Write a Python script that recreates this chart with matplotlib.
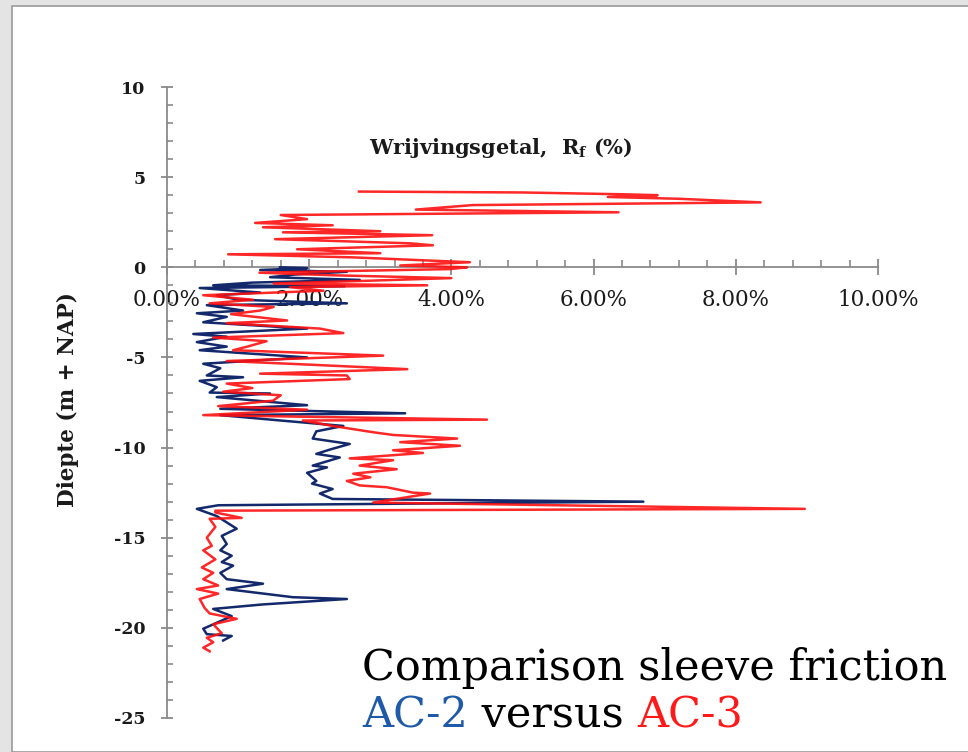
import matplotlib
matplotlib.use("Agg")
import matplotlib.pyplot as plt
from matplotlib.patches import Rectangle
from matplotlib.ticker import MultipleLocator, FuncFormatter

plt.rcParams['axes.unicode_minus'] = False
plt.rcParams['mathtext.fontset'] = 'dejavuserif'

# AC-2 sondering (blue): depth (m + NAP) and friction ratio Rf (%)
ac2_depth = [0.0, -0.05, -0.15, -0.25, -0.4, -0.55, -0.7, -0.85, -1.0, -1.05,
             -1.15, -1.4, -1.55, -1.8, -2.0, -2.1, -2.4, -2.55, -2.75, -3.05,
             -3.4, -3.7, -3.85, -4.15, -4.4, -4.6, -5.0, -5.35, -5.6, -6.0,
             -6.1, -6.3, -6.65, -6.95, -7.0, -7.2, -7.65, -7.85, -8.1, -8.2,
             -8.5, -8.8, -9.1, -9.5, -9.8, -10.1, -10.35, -10.55, -11.0, -11.1,
             -11.4, -11.85, -12.0, -12.3, -12.55, -12.85, -13.0, -13.2, -13.4, -13.8,
             -14.15, -14.5, -14.9, -15.35, -15.7, -16.0, -16.35, -16.55, -16.95, -17.3,
             -17.55, -17.85, -18.3, -18.4, -18.7, -18.95, -19.35, -20.05, -20.35, -20.45,
             -20.7]
ac2_rf = [1.59, 1.97, 1.31, 2.53, 1.8, 1.45, 2.71, 1.2, 0.65, 2.5,
          0.46, 1.31, 0.7, 1.0, 2.53, 0.56, 1.07, 0.42, 0.84, 0.51,
          1.97, 0.37, 0.84, 0.42, 0.84, 0.46, 1.97, 0.51, 0.75, 0.56,
          1.07, 0.46, 0.7, 0.6, 1.45, 0.7, 1.97, 0.75, 3.35, 0.75,
          1.6, 2.48, 2.1, 2.05, 2.57, 2.3, 2.1, 2.43, 2.05, 2.25,
          1.97, 2.1, 2.04, 2.33, 2.15, 2.33, 6.7, 0.72, 0.42, 0.7,
          0.84, 0.98, 0.77, 0.84, 0.75, 0.91, 0.77, 0.93, 0.75, 0.84,
          1.35, 0.84, 1.77, 2.53, 1.35, 0.65, 0.91, 0.51, 0.56, 0.91,
          0.79]

# AC-3 sondering (red)
ac3_depth = [4.2, 4.15, 4.05, 4.0, 3.9, 3.8, 3.6, 3.45, 3.2, 3.05,
             2.9, 2.67, 2.46, 2.33, 2.22, 2.0, 1.94, 1.78, 1.56, 1.33,
             1.22, 1.0, 0.78, 0.72, 0.55, 0.28, 0.1, 0.0, -0.1, -0.3,
             -0.45, -0.6, -0.75, -0.9, -1.0, -1.1, -1.3, -1.55, -1.8, -2.0,
             -2.2, -2.4, -2.6, -2.95, -3.1, -3.4, -3.65, -3.9, -4.1, -4.4,
             -4.6, -4.9, -5.2, -5.4, -5.65, -5.9, -6.0, -6.2, -6.45, -6.7,
             -6.9, -7.1, -7.4, -7.7, -7.9, -8.2, -8.45, -8.5, -8.8, -9.15,
             -9.3, -9.5, -9.7, -9.9, -10.15, -10.3, -10.6, -10.7, -11.0, -11.2,
             -11.45, -11.65, -11.85, -12.1, -12.2, -12.5, -12.55, -12.75, -13.05, -13.4,
             -13.5, -13.6, -13.9, -13.95, -14.4, -15.0, -15.45, -15.7, -16.2, -16.65,
             -16.95, -17.3, -17.65, -17.85, -18.1, -18.4, -18.9, -19.2, -19.5, -19.8,
             -20.3, -20.55, -20.8, -21.1, -21.3]
ac3_rf = [2.7, 5.0, 6.4, 6.9, 6.2, 7.2, 8.35, 4.3, 3.5, 6.35,
          1.6, 1.97, 1.24, 2.33, 1.35, 3.0, 1.63, 3.73, 1.52, 3.42,
          3.74, 1.83, 3.0, 0.86, 2.62, 4.26, 3.28, 4.22, 3.98, 1.3,
          2.4, 4.0, 2.8, 1.5, 3.66, 1.73, 2.2, 0.51, 1.21, 0.6,
          1.5, 1.31, 0.9, 1.69, 0.84, 2.15, 2.48, 0.65, 1.4, 1.13,
          0.93, 3.04, 0.84, 2.0, 3.38, 1.31, 2.53, 2.57, 0.84, 1.2,
          0.79, 1.6, 1.49, 0.72, 1.97, 0.51, 4.5, 1.91, 2.33, 2.9,
          3.18, 4.08, 3.28, 4.12, 3.18, 3.6, 2.57, 3.18, 2.71, 3.23,
          2.62, 2.86, 2.53, 2.71, 3.09, 3.46, 3.7, 3.38, 2.9, 8.97,
          0.68, 0.68, 1.05, 0.6, 0.68, 0.56, 0.63, 0.51, 0.68, 0.49,
          0.65, 0.51, 0.72, 0.42, 0.72, 0.46, 0.53, 0.6, 0.98, 0.65,
          0.77, 0.56, 0.65, 0.51, 0.6]

y_ticks = [-25, -20, -15, -10, -5, 0, 5, 10]
x_ticks = [0, 2, 4, 6, 8, 10]

NAVY = '#13296b'
RED = '#ff1010'
GRAY = '#8a8a8a'
SERIF = 'DejaVu Serif'

fig = plt.figure(figsize=(9.68, 7.52), dpi=100, facecolor='#e4e4e4')
fig.patches.append(Rectangle((12 / 968, 0), 1, (752 - 6) / 752, transform=fig.transFigure,
                             facecolor='white', edgecolor='#9a9a9a', linewidth=1.2, zorder=-5))

ax = fig.add_axes([167 / 968, 34 / 752, 711 / 968, 631 / 752])
ax.patch.set_alpha(0)

ax.plot(ac2_rf, ac2_depth, color=NAVY, lw=1.8, zorder=3)
ax.plot(ac3_rf, ac3_depth, color=RED, lw=1.8, alpha=0.9, zorder=4)

ax.set_xlim(0, 10)
ax.set_ylim(-25, 10)

for s in ['top', 'right']:
    ax.spines[s].set_visible(False)
ax.spines['bottom'].set_position(('data', 0))
for s in ['left', 'bottom']:
    ax.spines[s].set_color(GRAY)
    ax.spines[s].set_linewidth(1.3)
    ax.spines[s].set_zorder(2)

ax.set_xticks(x_ticks)
ax.xaxis.set_minor_locator(MultipleLocator(0.4))
ax.xaxis.set_major_formatter(FuncFormatter(lambda v, p: f'{v:.2f}%'))
ax.set_yticks(y_ticks)
ax.yaxis.set_minor_locator(MultipleLocator(1))
ax.yaxis.set_major_formatter(FuncFormatter(lambda v, p: f'{v:.0f}'))

ax.tick_params(axis='x', which='major', direction='inout', length=11, width=1.3,
               color=GRAY, pad=10, labelsize=15.5, labelcolor='#1a1a1a')
ax.tick_params(axis='x', which='minor', direction='in', length=5, width=1.2, color=GRAY)
ax.tick_params(axis='y', which='major', direction='inout', length=9, width=1.3,
               color=GRAY, pad=11, labelsize=12.5, labelcolor='#1a1a1a')
ax.tick_params(axis='y', which='minor', direction='in', length=4.5, width=1.2, color=GRAY)
for lab in ax.get_xticklabels():
    lab.set_family(SERIF)
for lab in ax.get_yticklabels():
    lab.set_family(SERIF)
    lab.set_weight('bold')

ax.text(4.7, 6.6, r'Wrijvingsgetal,  R$_\mathbf{f}$ (%)', ha='center', va='center',
        fontsize=15, fontweight='bold', family=SERIF, color='#1a1a1a')

fig.text(68 / 968, (752 - 400) / 752, 'Diepte (m + NAP)', rotation=90, ha='center',
         va='center', fontsize=15.5, fontweight='bold', family=SERIF, color='#1a1a1a')

# slide caption
big = dict(fontsize=31, family=SERIF)
fig.text(362 / 968, (752 - 680) / 752, 'Comparison sleeve friction', color='black',
         va='baseline', **big)
t = fig.text(362 / 968, (752 - 727) / 752, 'AC-2', color='#1f5aa8', va='baseline', **big)
t = fig.add_artist(plt.Annotation(' versus ', xy=(1, 0), xycoords=t, color='black',
                                  va='bottom', **big))
fig.add_artist(plt.Annotation('AC-3', xy=(1, 0), xycoords=t, color='#ff1a1a',
                              va='bottom', **big))

fig.savefig('out.png', dpi=100, facecolor=fig.get_facecolor())
